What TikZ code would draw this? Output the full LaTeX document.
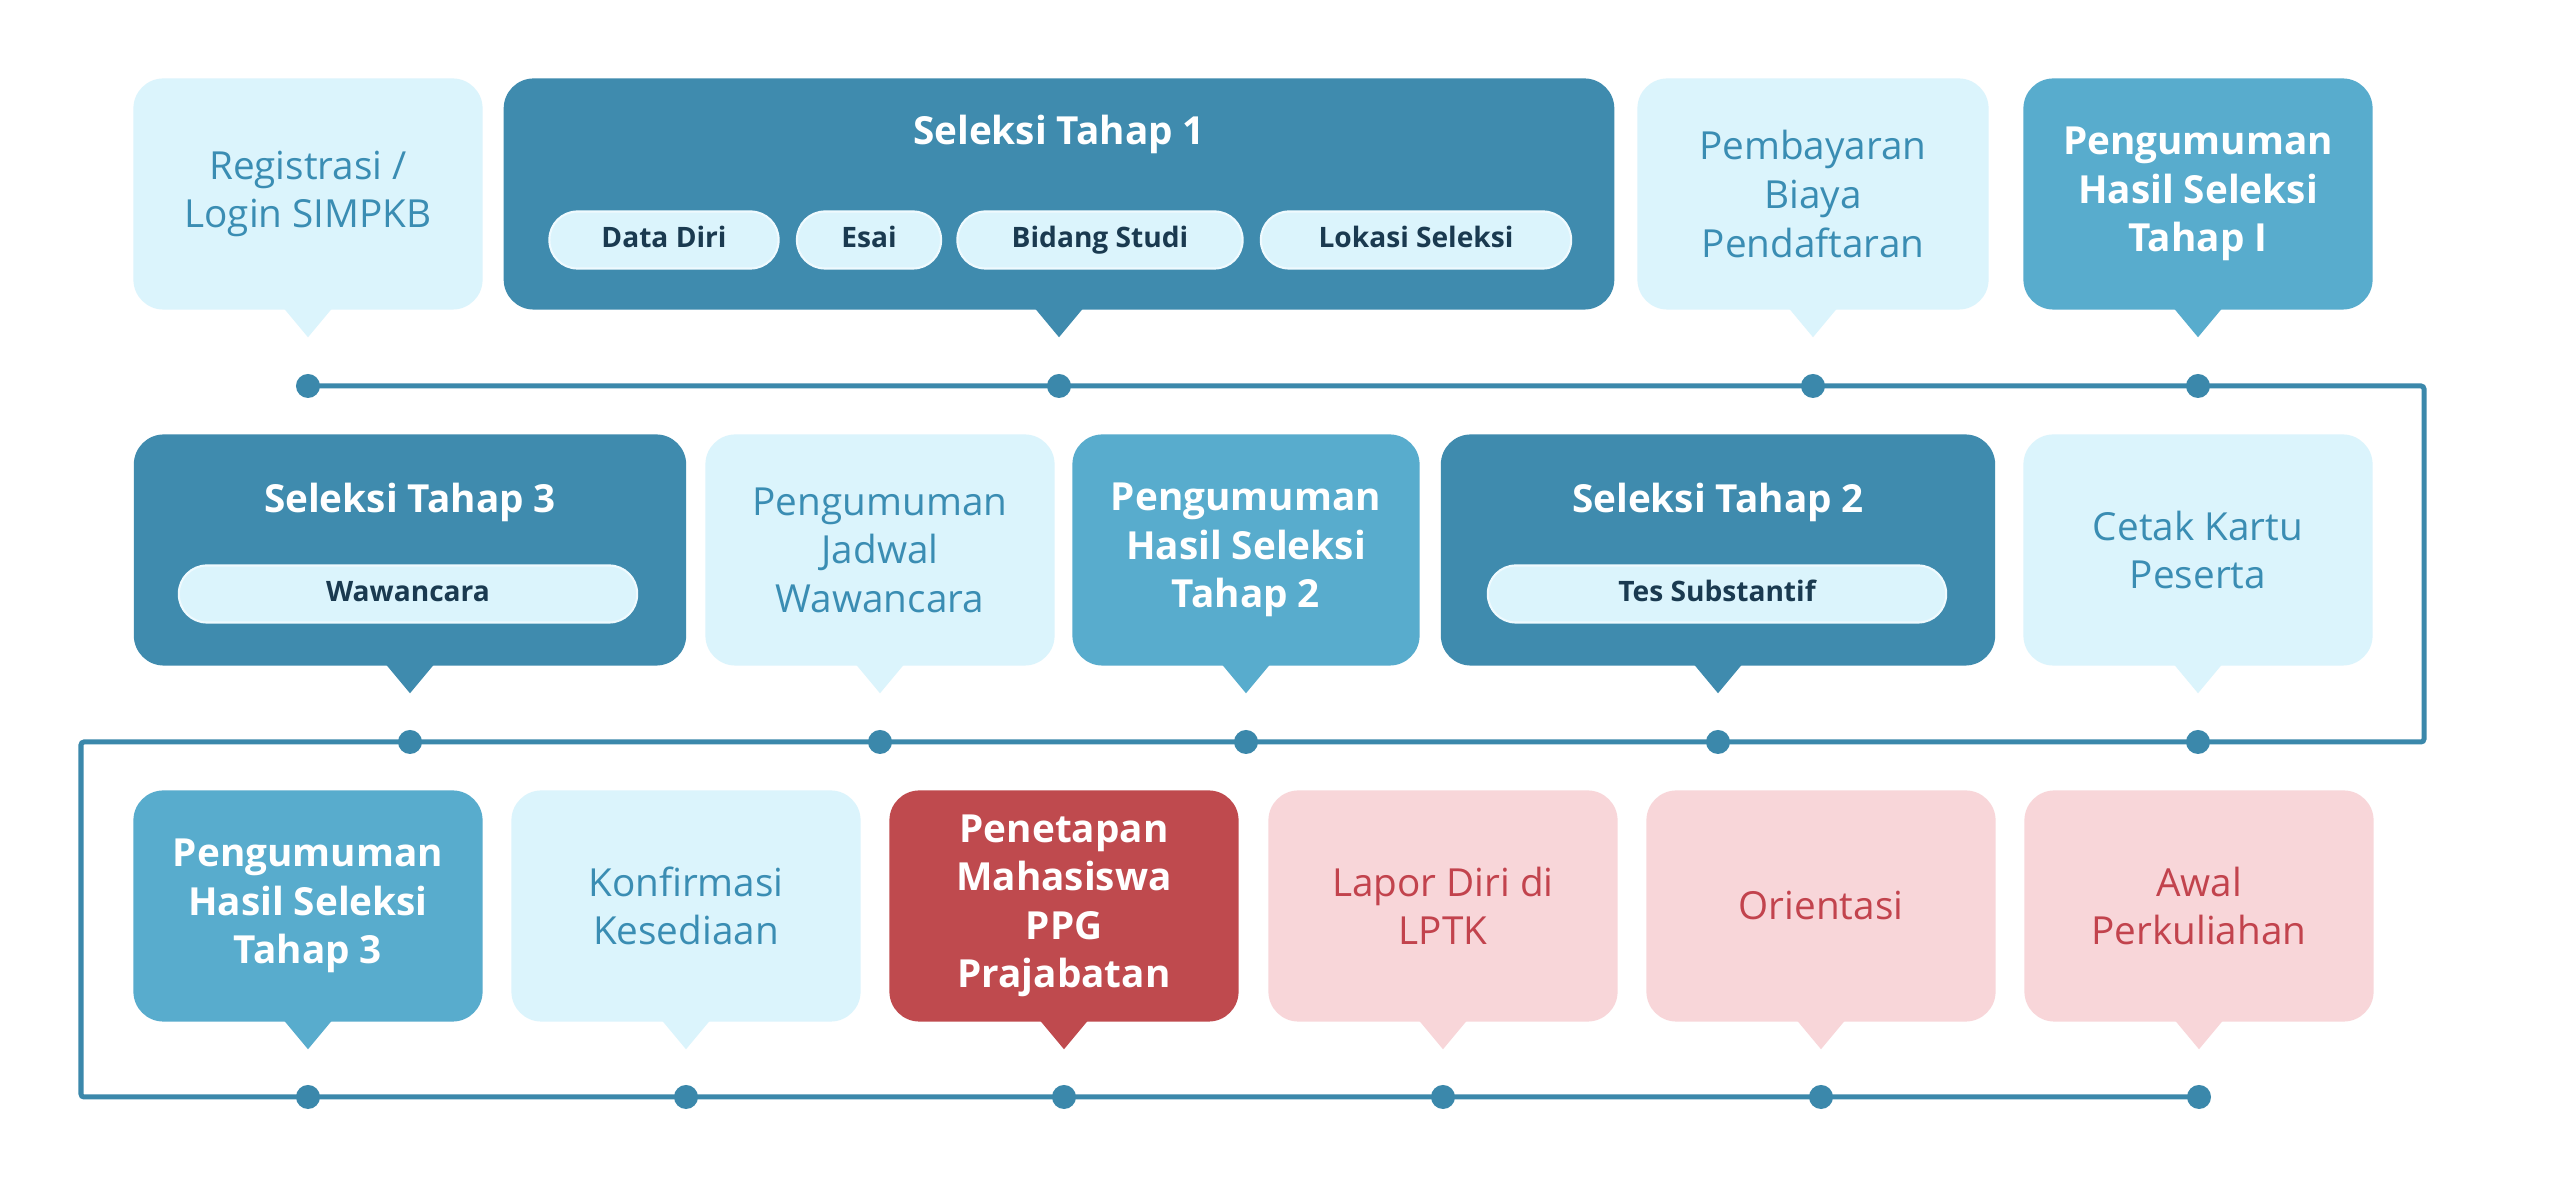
\documentclass[tikz,border=0pt]{standalone}
\usepackage{fontspec}
\setmainfont{Open Sans}
\usetikzlibrary{calc}
\definecolor{lightfill}{HTML}{DBF4FC}
\definecolor{lighttext}{HTML}{3A8DB3}
\definecolor{darkfill}{HTML}{3F8BAE}
\definecolor{midfill}{HTML}{58ACCD}
\definecolor{pillfill}{HTML}{DBF4FC}
\definecolor{pilltext}{HTML}{1A3A50}
\definecolor{redfill}{HTML}{BF4A4E}
\definecolor{pinkfill}{HTML}{F8D6D9}
\definecolor{pinktext}{HTML}{C2434D}
\definecolor{linecol}{HTML}{3B88AB}
\newcommand{\bubtip}[2]{\fill[#2] ($(#1.south)+(-25,-3)$) -- ($(#1.south)+(25,-3)$) -- ($(#1.south)+(0,27)$) -- cycle;}
\begin{document}
\begin{tikzpicture}[x=0.01cm,y=-0.01cm,
  box/.style={rectangle, rounded corners=0.3cm, inner sep=0pt, align=center,
    minimum height=2.31cm, minimum width=3.49cm},
  regtext/.style={font=\fontsize{11}{13.8}\selectfont},
  boldtext/.style={font=\fontsize{11}{13.8}\selectfont\bfseries},
  lightbox/.style={box, fill=lightfill, text=lighttext, regtext},
  midbox/.style={box, fill=midfill, text=white, boldtext},
  darkbox/.style={box, fill=darkfill},
  redbox/.style={box, fill=redfill, text=white, boldtext},
  pinkbox/.style={box, fill=pinkfill, text=pinktext, regtext},
  title/.style={text=white, boldtext, inner sep=0pt},
  pill/.style={rectangle, rounded corners=0.28cm, fill=pillfill, draw=white!55!pillfill, line width=0.6pt,
    minimum height=0.57cm, inner sep=0pt, text height=6pt, text depth=1.6pt,
    text=pilltext, font=\fontsize{8}{10}\selectfont\bfseries},
  tl/.style={draw=linecol, line width=0.05cm, rounded corners=0.03cm},
  dot/.style={circle, fill=linecol, inner sep=0pt, minimum size=0.24cm}
]
\useasboundingbox[fill=white] (0,0) rectangle (2556,1180);

% ---------- Row 1 ----------
\node[lightbox] (reg) at (308,194) {Registrasi /\\Login SIMPKB};
\node[darkbox, minimum width=11.10cm] (sel1) at (1059,194) {};
\node[title] (sel1t) at (1059,134) {Seleksi Tahap 1};
\node[pill, minimum width=2.29cm] (p1) at (664,240) {Data Diri};
\node[pill, minimum width=1.44cm] (p2) at (869,240) {Esai};
\node[pill, minimum width=2.85cm] (p3) at (1100,240) {Bidang Studi};
\node[pill, minimum width=3.10cm] (p4) at (1416,240) {Lokasi Seleksi};
\node[lightbox, minimum width=3.51cm] (pemb) at (1813,194) {Pembayaran\\Biaya\\Pendaftaran};
\node[midbox] (peng1) at (2198,194) {Pengumuman\\Hasil Seleksi\\Tahap I};

% ---------- Row 2 ----------
\node[darkbox, minimum width=5.52cm] (sel3) at (410,550) {};
\node[title] (sel3t) at (410,502) {Seleksi Tahap 3};
\node[pill, minimum width=4.58cm] (p5) at (408,594) {Wawancara};
\node[lightbox] (jadwal) at (880,550) {Pengumuman\\Jadwal\\Wawancara};
\node[midbox, minimum width=3.47cm] (hasil2) at (1246,550) {Pengumuman\\Hasil Seleksi\\Tahap 2};
\node[darkbox, minimum width=5.54cm] (sel2) at (1718,550) {};
\node[title] (sel2t) at (1718,502) {Seleksi Tahap 2};
\node[pill, minimum width=4.58cm] (p6) at (1717,594) {Tes Substantif};
\node[lightbox] (cetak) at (2198,550) {Cetak Kartu\\Peserta};

% ---------- Row 3 ----------
\node[midbox] (hasil3) at (308,906) {Pengumuman\\Hasil Seleksi\\Tahap 3};
\node[lightbox] (konf) at (686,906) {Konfirmasi\\Kesediaan};
\node[redbox] (penet) at (1064,906) {Penetapan\\Mahasiswa\\PPG\\Prajabatan};
\node[pinkbox] (lapor) at (1443,906) {Lapor Diri di\\LPTK};
\node[pinkbox] (orient) at (1821,906) {Orientasi};
\node[pinkbox] (awal) at (2199,906) {Awal\\Perkuliahan};

% ---------- pointers ----------
\bubtip{reg}{lightfill}
\bubtip{sel1}{darkfill}
\bubtip{pemb}{lightfill}
\bubtip{peng1}{midfill}
\bubtip{sel3}{darkfill}
\bubtip{jadwal}{lightfill}
\bubtip{hasil2}{midfill}
\bubtip{sel2}{darkfill}
\bubtip{cetak}{lightfill}
\bubtip{hasil3}{midfill}
\bubtip{konf}{lightfill}
\bubtip{penet}{redfill}
\bubtip{lapor}{pinkfill}
\bubtip{orient}{pinkfill}
\bubtip{awal}{pinkfill}

% ---------- timeline ----------
\coordinate (c1) at (2424,386);
\coordinate (c2) at (2424,742);
\coordinate (c3) at (81,742);
\coordinate (c4) at (81,1097);
\path[tl] (308,386) coordinate (s0) -- (c1) -- (c2) -- (c3) -- (c4) -- (2199,1097);
\node[dot] (d11) at (308,386) {};
\node[dot] (d12) at (1059,386) {};
\node[dot] (d13) at (1813,386) {};
\node[dot] (d14) at (2198,386) {};
\node[dot] (d21) at (2198,742) {};
\node[dot] (d22) at (1718,742) {};
\node[dot] (d23) at (1246,742) {};
\node[dot] (d24) at (880,742) {};
\node[dot] (d25) at (410,742) {};
\node[dot] (d31) at (308,1097) {};
\node[dot] (d32) at (686,1097) {};
\node[dot] (d33) at (1064,1097) {};
\node[dot] (d34) at (1443,1097) {};
\node[dot] (d35) at (1821,1097) {};
\node[dot] (d36) at (2199,1097) {};
\end{tikzpicture}
\end{document}
